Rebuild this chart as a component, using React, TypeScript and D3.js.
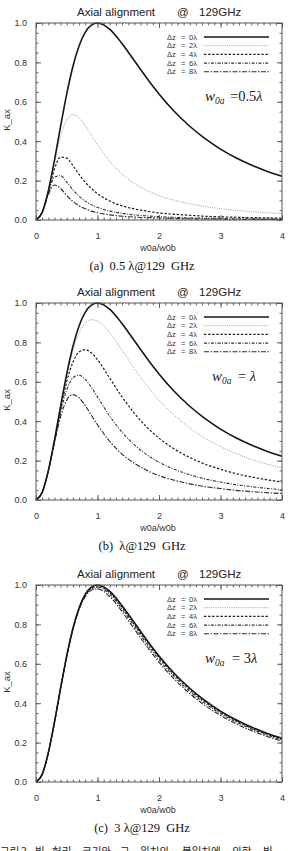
import { useEffect, useRef } from 'react';
import * as d3 from 'd3';

// Gaussian-beam axial coupling K_ax vs w0a/w0b, three beam waists, IDL-style plots.

const W = 290;
const H = 851;
const SANS = '"Liberation Sans", Arial, Helvetica, sans-serif';
const SERIF = '"Liberation Serif", "Times New Roman", serif';
const CJK = '"Noto Sans CJK KR", sans-serif';

const X_VALUES = [0, 0.1, 0.2, 0.3, 0.4, 0.5, 0.6, 0.7, 0.8, 0.9, 1.0, 1.2, 1.4, 1.6, 1.8, 2.0, 2.25, 2.5, 2.75, 3.0, 3.25, 3.5, 3.75, 4.0];
const X_TICKS = [0, 1, 2, 3, 4];
const Y_TICKS = [0, 0.2, 0.4, 0.6, 0.8, 1.0];
const DZ_LABELS = ['0λ', '2λ', '4λ', '6λ', '8λ'];

// Δz = 0 is the same in every panel
const DZ0 = [0, 0.039, 0.148, 0.303, 0.476, 0.640, 0.779, 0.883, 0.952, 0.989, 1.000, 0.968, 0.895, 0.808, 0.721, 0.640, 0.551, 0.476, 0.413, 0.360, 0.316, 0.279, 0.248, 0.222];

// (a) w0a = 0.5λ
const A_DZ2 = [0, 0.039, 0.147, 0.290, 0.423, 0.508, 0.535, 0.519, 0.479, 0.430, 0.382, 0.297, 0.233, 0.186, 0.151, 0.124, 0.100, 0.082, 0.068, 0.058, 0.049, 0.043, 0.037, 0.033];
const A_DZ4 = [0, 0.039, 0.143, 0.258, 0.319, 0.314, 0.276, 0.232, 0.192, 0.160, 0.134, 0.096, 0.072, 0.056, 0.045, 0.036, 0.029, 0.024, 0.019, 0.016, 0.014, 0.012, 0.011, 0.009];
const A_DZ6 = [0, 0.039, 0.136, 0.217, 0.225, 0.192, 0.153, 0.121, 0.096, 0.078, 0.064, 0.045, 0.034, 0.026, 0.021, 0.017, 0.013, 0.011, 0.009, 0.008, 0.006, 0.006, 0.005, 0.004];
const A_DZ8 = [0, 0.039, 0.128, 0.178, 0.160, 0.124, 0.094, 0.072, 0.057, 0.045, 0.037, 0.026, 0.019, 0.015, 0.012, 0.010, 0.008, 0.006, 0.005, 0.004, 0.004, 0.003, 0.003, 0.002];

// (b) w0a = λ
const B_DZ2 = [0, 0.039, 0.148, 0.302, 0.472, 0.630, 0.757, 0.846, 0.897, 0.915, 0.908, 0.848, 0.760, 0.668, 0.583, 0.508, 0.430, 0.366, 0.314, 0.271, 0.236, 0.207, 0.183, 0.163];
const B_DZ4 = [0, 0.039, 0.148, 0.300, 0.461, 0.601, 0.699, 0.751, 0.763, 0.747, 0.712, 0.618, 0.523, 0.440, 0.370, 0.314, 0.259, 0.216, 0.182, 0.156, 0.134, 0.117, 0.103, 0.091];
const B_DZ6 = [0, 0.039, 0.147, 0.296, 0.445, 0.559, 0.620, 0.633, 0.612, 0.572, 0.523, 0.426, 0.344, 0.280, 0.230, 0.192, 0.156, 0.128, 0.107, 0.091, 0.078, 0.068, 0.059, 0.052];
const B_DZ8 = [0, 0.039, 0.147, 0.290, 0.423, 0.508, 0.535, 0.519, 0.479, 0.430, 0.382, 0.297, 0.233, 0.186, 0.151, 0.124, 0.100, 0.082, 0.068, 0.058, 0.049, 0.043, 0.037, 0.033];

// (c) w0a = 3λ
const C_DZ2 = [0, 0.039, 0.148, 0.303, 0.476, 0.640, 0.778, 0.882, 0.951, 0.988, 0.999, 0.966, 0.893, 0.806, 0.719, 0.638, 0.549, 0.474, 0.411, 0.359, 0.315, 0.278, 0.247, 0.221];
const C_DZ4 = [0, 0.039, 0.148, 0.303, 0.475, 0.640, 0.778, 0.881, 0.949, 0.985, 0.995, 0.961, 0.887, 0.800, 0.713, 0.632, 0.543, 0.469, 0.406, 0.354, 0.311, 0.274, 0.244, 0.218];
const C_DZ6 = [0, 0.039, 0.148, 0.303, 0.475, 0.639, 0.776, 0.879, 0.945, 0.980, 0.989, 0.953, 0.878, 0.790, 0.702, 0.622, 0.534, 0.460, 0.399, 0.347, 0.305, 0.269, 0.239, 0.213];
const C_DZ8 = [0, 0.039, 0.148, 0.303, 0.475, 0.638, 0.774, 0.875, 0.940, 0.973, 0.980, 0.941, 0.865, 0.776, 0.689, 0.609, 0.522, 0.449, 0.388, 0.338, 0.296, 0.261, 0.232, 0.207];

// line style per Δz (solid, dotted, dashed, dash-dot, long dash-dot)
const STYLES = [
  { stroke: '#161616', width: 1.6, dash: undefined },
  { stroke: '#9a9a9a', width: 1.0, dash: '1 1.3' },
  { stroke: '#1e1e1e', width: 1.2, dash: '2.4 1.7' },
  { stroke: '#333333', width: 1.1, dash: '3 1.4 1 1.4' },
  { stroke: '#2a2a2a', width: 1.1, dash: '5 1.5 1.5 1.5' },
];

const BOX_LEFT = 36;
const BOX_RIGHT = 282;
const BOX_H = 197;

interface PanelProps {
  top: number;
  series: number[][];
  wX: number;
  eqX: number;
  eq: string;
  caption: string;
}

function Panel({ top, series, wX, eqX, eq, caption }: PanelProps) {
  const axesRef = useRef<SVGGElement>(null);

  const x = d3.scaleLinear().domain([0, 4]).range([BOX_LEFT, BOX_RIGHT]);
  const y = d3.scaleLinear().domain([0, 1]).range([top + BOX_H, top]);

  const line = d3
    .line<number>()
    .x((_, i) => x(X_VALUES[i]))
    .y((d) => y(d))
    .curve(d3.curveMonotoneX);

  useEffect(() => {
    const g = d3.select(axesRef.current);
    g.selectAll('*').remove();
    const add = (axis: any, transform: string) => {
      const sel = g.append('g').attr('transform', transform).call(axis);
      sel.select('.domain').remove();
      sel.selectAll('line').attr('stroke', '#555').attr('stroke-width', 0.9);
      sel.selectAll('text').attr('font-family', SANS).attr('font-size', 9).attr('fill', '#333');
    };
    const none = () => '';
    // bottom
    add(d3.axisBottom(x).tickValues(X_TICKS).tickSize(-5).tickPadding(13).tickFormat(d3.format('d') as any), `translate(0,${y(0)})`);
    add(d3.axisBottom(x).tickValues(x.ticks(40)).tickSize(-2.5).tickFormat(none), `translate(0,${y(0)})`);
    // top
    add(d3.axisTop(x).tickValues(X_TICKS).tickSize(-5).tickFormat(none), `translate(0,${y(1)})`);
    add(d3.axisTop(x).tickValues(x.ticks(40)).tickSize(-2.5).tickFormat(none), `translate(0,${y(1)})`);
    // left
    add(d3.axisLeft(y).tickValues(Y_TICKS).tickSize(-5).tickPadding(9).tickFormat(d3.format('.1f') as any), `translate(${x(0)},0)`);
    add(d3.axisLeft(y).tickValues(y.ticks(20)).tickSize(-2.5).tickFormat(none), `translate(${x(0)},0)`);
    // right
    add(d3.axisRight(y).tickValues(Y_TICKS).tickSize(-5).tickFormat(none), `translate(${x(4)},0)`);
    add(d3.axisRight(y).tickValues(y.ticks(20)).tickSize(-2.5).tickFormat(none), `translate(${x(4)},0)`);
  }, [top]);

  const legendTop = top + 14;
  const rowGap = 8.7;

  return (
    <g>
      {/* title */}
      <g fontFamily={SANS} fontSize={11.5} fill="#222">
        <text x={77} y={top - 7}>Axial alignment</text>
        <text x={177} y={top - 7}>@</text>
        <text x={199} y={top - 7}>129GHz</text>
      </g>

      {/* curves, Δz = 0 drawn last */}
      {[4, 3, 2, 1, 0].map((k) => (
        <path
          key={k}
          d={line(series[k]) ?? ''}
          fill="none"
          stroke={STYLES[k].stroke}
          strokeWidth={STYLES[k].width}
          strokeDasharray={STYLES[k].dash}
        />
      ))}

      {/* frame + ticks */}
      <rect x={x(0)} y={y(1)} width={x(4) - x(0)} height={y(0) - y(1)} fill="none" stroke="#555" strokeWidth={1} />
      <g ref={axesRef} />

      {/* axis titles */}
      <text
        transform={`translate(10,${top + 97}) rotate(-90)`}
        textAnchor="middle"
        fontFamily={SANS}
        fontSize={9.5}
        fill="#333"
      >
        K_ax
      </text>
      <text x={158} y={top + BOX_H + 31} textAnchor="middle" fontFamily={SANS} fontSize={9} fill="#333">
        w0a/w0b
      </text>

      {/* legend */}
      {DZ_LABELS.map((lab, i) => {
        const cy = legendTop + i * rowGap;
        const s = STYLES[i];
        return (
          <g key={lab} fontFamily={SANS} fontSize={7.5} fill="#333">
            <text x={167} y={cy + 2.6}>Δz</text>
            <text x={181} y={cy + 2.6}>=</text>
            <text x={189} y={cy + 2.6}>{lab}</text>
            <line
              x1={204} x2={269} y1={cy} y2={cy}
              stroke={s.stroke} strokeWidth={s.width} strokeDasharray={s.dash}
            />
          </g>
        );
      })}

      {/* beam waist note */}
      <text x={wX} y={top + 78} fontFamily={SERIF} fill="#222">
        <tspan fontStyle="italic" fontSize={15}>w</tspan>
        <tspan fontStyle="italic" fontSize={9.5} dy={3}>0a</tspan>
        <tspan x={eqX} dy={-3} fontSize={14.5} style={{ whiteSpace: 'pre' }}>{eq}</tspan>
        <tspan fontStyle="italic" fontSize={14.5}>λ</tspan>
      </text>

      {/* caption */}
      <text
        x={142}
        y={top + 247}
        textAnchor="middle"
        fontFamily={SERIF}
        fontSize={12.5}
        fill="#111"
        style={{ whiteSpace: 'pre' }}
      >
        {caption}
      </text>
    </g>
  );
}

const KOREAN_WORDS: [string, number][] = [
  ['그림', 0], ['2.', 21], ['빔', 35], ['허리', 52], ['크기와', 82], ['그', 120],
  ['위치의', 140], ['불일치에', 182], ['의한', 232], ['빔', 263],
];

export default function App() {
  return (
    <svg
      width={W}
      height={H}
      style={{ position: 'absolute', left: 0, top: 0, display: 'block', background: '#fff' }}
    >
      <Panel top={23} series={[DZ0, A_DZ2, A_DZ4, A_DZ6, A_DZ8]} wX={205} eqX={230} eq="=0.5" caption="(a)  0.5 λ@129  GHz" />
      <Panel top={303} series={[DZ0, B_DZ2, B_DZ4, B_DZ6, B_DZ8]} wX={212} eqX={238} eq="= " caption="(b)  λ@129  GHz" />
      <Panel top={585} series={[DZ0, C_DZ2, C_DZ4, C_DZ6, C_DZ8]} wX={205} eqX={232} eq="= 3" caption="(c)  3 λ@129  GHz" />

      {/* figure caption, cut off by the page edge */}
      <g fontFamily={CJK} fontSize={10.5} fill="#222">
        {KOREAN_WORDS.map(([w, px], i) => (
          <text key={i} x={px} y={855}>{w}</text>
        ))}
      </g>
    </svg>
  );
}
